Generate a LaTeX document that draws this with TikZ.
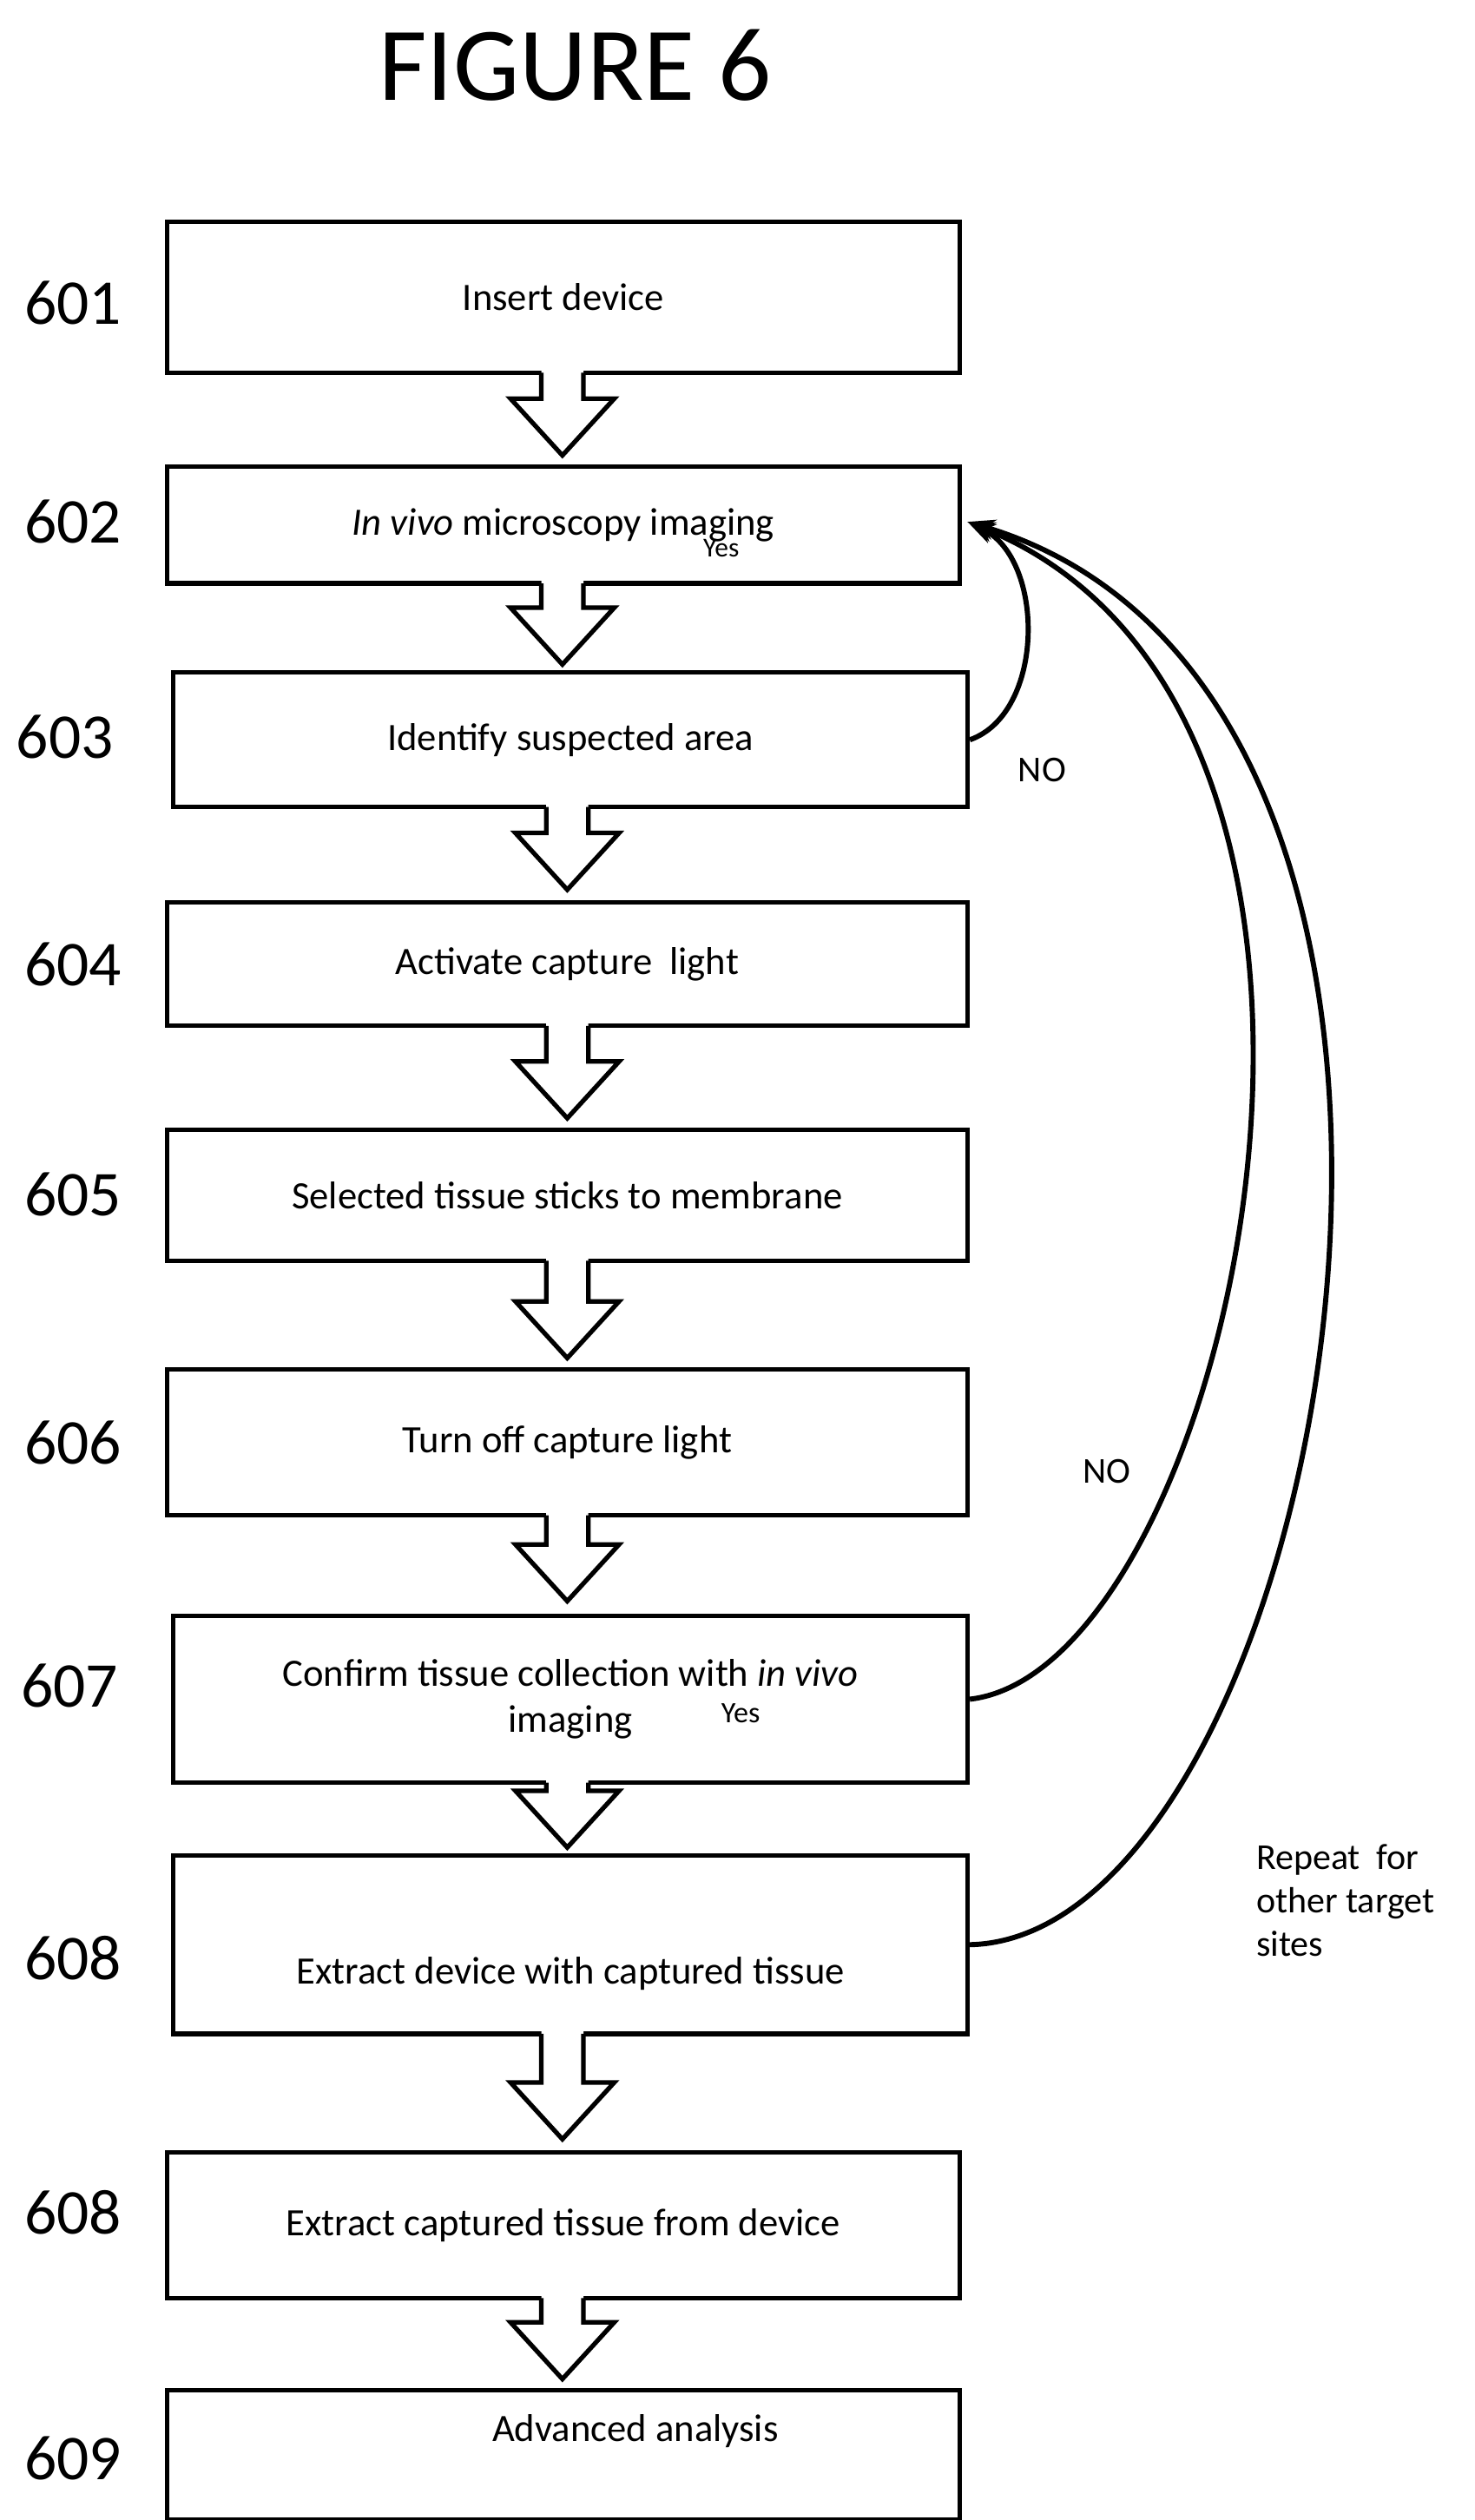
\documentclass[tikz,border=0pt]{standalone}
\usepackage{fontspec}
\setmainfont{Carlito}
\usetikzlibrary{arrows.meta}
\begin{document}
\begin{tikzpicture}[x=0.05cm,y=-0.05cm,
  box/.style={draw,line width=4pt,inner sep=0pt,minimum width=24.5cm,align=center,font=\fontsize{34}{40}\selectfont},
  txt/.style={inner sep=0pt,font=\fontsize{34}{40}\selectfont},
  num/.style={inner sep=0pt,font=\fontsize{56}{60}\selectfont},
  lab/.style={inner sep=0pt,font=\fontsize{32}{38}\selectfont},
  curve/.style={line width=4.5pt,-{Stealth[length=24pt,width=18pt]}},
  barr/.style={line width=4pt}]
\useasboundingbox (0,0) rectangle (910,1555);
\node[inner sep=0pt,font=\fontsize{92}{96}\selectfont] (title) at (355,40) {FIGURE 6};
\node[box,minimum width=24.45cm,minimum height=4.65cm] (b601) at (347.5,183.5) {Insert device};
\node[box,minimum width=24.45cm,minimum height=3.6cm] (b602) at (347.5,324) {\textit{In vivo} microscopy imaging};
\node[box,minimum width=24.5cm,minimum height=4.15cm] (b603) at (352,456.5) {Identify suspected area};
\node[box,minimum width=24.7cm,minimum height=3.8cm] (b604) at (350,595) {Activate capture\ \ light};
\node[box,minimum width=24.7cm,minimum height=4.05cm] (b605) at (350,737.5) {Selected tissue sticks to membrane};
\node[box,minimum width=24.7cm,minimum height=4.5cm] (b606) at (350,890) {Turn off capture light};
\node[box,minimum width=24.5cm,minimum height=5.15cm] (b607) at (352,1048.5) {Confirm tissue collection with \textit{in vivo}\\imaging};
\node[box,minimum width=24.5cm,minimum height=5.5cm] (b608a) at (352,1200) {};
\node[txt] (t608a) at (352,1218) {Extract device with captured tissue};
\node[box,minimum width=24.45cm,minimum height=4.5cm] (b608b) at (347.5,1373) {Extract captured tissue from device};
\node[box,minimum width=24.45cm,minimum height=4cm] (b609) at (347.5,1515) {};
\node[txt] (t609) at (392,1500) {Advanced analysis};
\node[num] (n601) at (45,187) {601};
\node[num] (n602) at (45,322) {602};
\node[num] (n603) at (40,455) {603};
\node[num] (n604) at (45,595) {604};
\node[num] (n605) at (45,737) {605};
\node[num] (n606) at (45,890) {606};
\node[num] (n607) at (43,1040) {607};
\node[num] (n608a) at (45,1208) {608};
\node[num] (n608b) at (45,1365) {608};
\node[num] (n609) at (45,1517) {609};
\newcommand\barrowx[3]{%
  \fill[white] (#1-13,#2-3) -- (#1-13,#3-35) -- (#1-32,#3-35) -- (#1,#3) -- (#1+32,#3-35) -- (#1+13,#3-35) -- (#1+13,#2-3) -- cycle;
  \draw[barr,line join=miter] (#1-13,#2) -- (#1-13,#3-35) -- (#1-32,#3-35) -- (#1,#3) -- (#1+32,#3-35) -- (#1+13,#3-35) -- (#1+13,#2);}
\barrowx{347}{230}{281}
\barrowx{347}{360}{410}
\barrowx{350}{498}{549}
\barrowx{350}{633}{690}
\barrowx{350}{778}{838}
\barrowx{350}{935}{988}
\barrowx{350}{1100}{1140}
\barrowx{347}{1255}{1320}
\barrowx{347}{1418}{1468}
\node[lab,font=\fontsize{24}{28}\selectfont] (yes1) at (445,338) {Yes};
\node[lab,font=\fontsize{26}{30}\selectfont] (yes2) at (457,1057) {Yes};
\node[lab] (no1) at (643,475) {NO};
\node[lab] (no2) at (683,908) {NO};
\node[lab,align=left,anchor=north west] (rep) at (775,1138) {Repeat\ \ for\\other target\\sites};
\coordinate (tgt) at (597,322);
\draw[curve] (b603.east) .. controls (645,440) and (645,345) .. (tgt);
\draw[curve] (b607.east) .. controls (760,1030) and (890,440) .. (tgt);
\draw[curve] (b608a.east) .. controls (820,1195) and (960,430) .. (tgt);
\end{tikzpicture}
\end{document}
